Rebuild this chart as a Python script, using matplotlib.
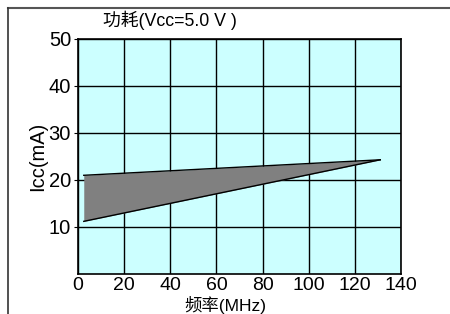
import matplotlib
matplotlib.use("Agg")
import matplotlib.pyplot as plt
from matplotlib.lines import Line2D

plt.rcParams['font.family'] = ['Liberation Sans', 'Noto Sans CJK SC', 'DejaVu Sans']

# данные с картинки
freq = [2.5, 131]
icc_upper = [21.0, 24.3]
icc_lower = [11.2, 24.3]
xticks = [0, 20, 40, 60, 80, 100, 120, 140]
yticks = [10, 20, 30, 40, 50]

fig = plt.figure(figsize=(4.5, 3.14), dpi=100)
ax = fig.add_axes([0.1733, 0.1274, 0.7178, 0.7484])
ax.set_facecolor('#ccffff')

ax.fill_between(freq, icc_lower, icc_upper, color='#808080', lw=0)
ax.plot(freq, icc_upper, color='black', lw=1)
ax.plot(freq, icc_lower, color='black', lw=1)

ax.set_xlim(0, 140)
ax.set_ylim(0, 50)
ax.set_xticks(xticks)
ax.set_yticks(yticks)
ax.grid(True, color='black', lw=1)
ax.set_axisbelow(True)
for s in ax.spines.values():
    s.set_linewidth(1.2)
ax.tick_params(axis='x', length=0, pad=2, labelsize=14)
ax.tick_params(axis='y', length=3, pad=2, labelsize=14.5)

ax.set_ylabel('Icc(mA)', fontsize=14.5, labelpad=1)
fig.text(0.5, 0.0, '频率(MHz)', fontsize=12.5, ha='center', va='bottom')
fig.text(0.229, 0.935, '功耗(Vcc=5.0 V )', fontsize=12.8, ha='left', va='center')

# рамка рисунка сверху и слева
fig.add_artist(Line2D([0.0167, 1.0], [0.973, 0.973], color='#555555', lw=1.5))
fig.add_artist(Line2D([0.0167, 0.0167], [0.0, 0.973], color='#333333', lw=1.2))

fig.savefig('out.png', dpi=100)
